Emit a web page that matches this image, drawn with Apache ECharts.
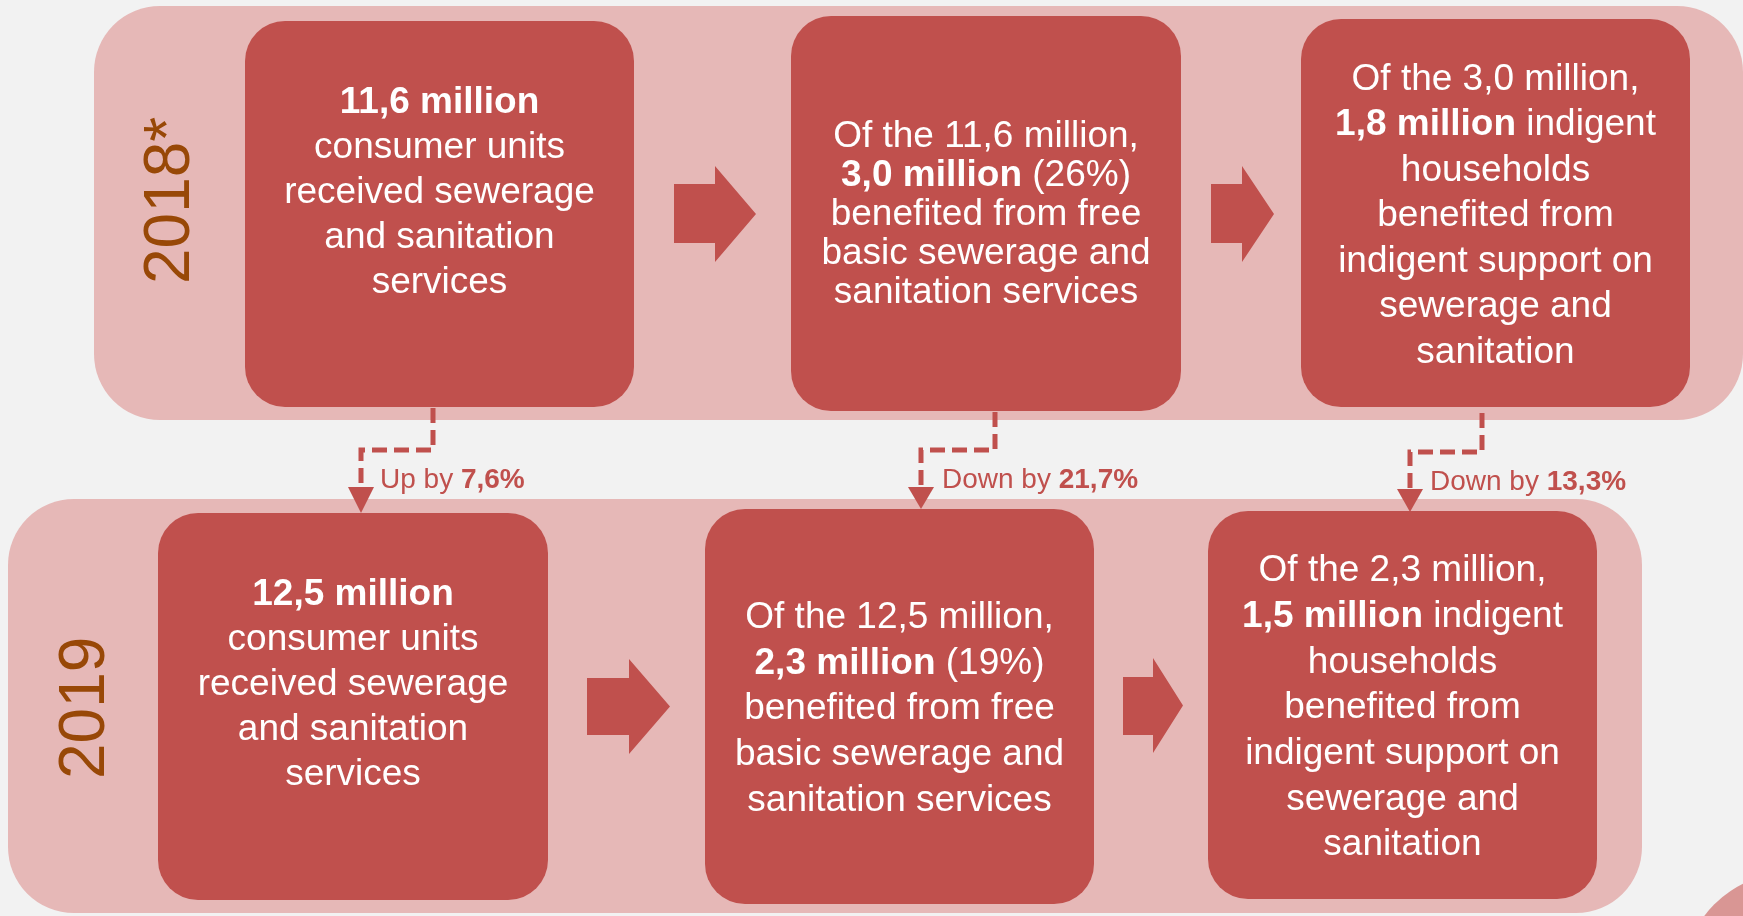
<!DOCTYPE html>
<html>
<head>
<meta charset="utf-8">
<script src="https://cdn.jsdelivr.net/npm/echarts@6/dist/echarts.min.js"></script>
<style>
  html, body { margin: 0; padding: 0; background: #F2F2F2; }
  #chart { width: 1743px; height: 916px; }
</style>
</head>
<body>
<div id="chart"></div>
<script>
// values (million, %)
const years = ['2018*', '2019'];
const consumerUnits = [11.6, 12.5];
const freeBasic = [3.0, 2.3];
const freeBasicShare = [26, 19];
const indigent = [1.8, 1.5];
const changeWord = ['Up by', 'Down by', 'Down by'];
const changePct = [7.6, 21.7, 13.3];

// colours
const BOX = '#C0504D';
const BAND = '#E6B8B7';
const YEAR = '#984807';
const FONT = '"Liberation Sans", Arial, sans-serif';

// layout (pixels)
const bands = [[94, 6, 1649, 414], [8, 499, 1634, 414]];
const boxes = [
    [[245, 21, 389, 386], [791, 16, 390, 395], [1301, 19, 389, 388]],
    [[158, 513, 390, 387], [705, 509, 389, 395], [1208, 511, 389, 388]]
];
const textCenter = [[193, 215, 216], [685, 709, 708]]; // centre y of each text block
const lineH = [[45, 39, 45.5], [45, 45.7, 45.7]];
const yearPos = [[171, 284], [86, 779]];
const arrowX = [[674, 715, 756], [1211, 1242, 1274], [587, 629, 670], [1123, 1153, 1183]];
const arrowY = [[166, 184, 243, 262], [166, 184, 243, 262], [659, 678, 735, 754], [658, 677, 735, 753]];
const connectors = [
    { from: [433, 408], mid: 450, to: [361, 487], tip: 513, label: [380, 480] },
    { from: [995, 412], mid: 450, to: [921, 487], tip: 509, label: [942, 480] },
    { from: [1482, 413], mid: 452, to: [1410, 489], tip: 512, label: [1430, 482] }
];

function fmt(v) {
    return v.toFixed(1).replace('.', ',');
}

function boxLines(row) {
    return [
        ['{b|' + fmt(consumerUnits[row]) + ' million}', 'consumer units', 'received sewerage', 'and sanitation', 'services'],
        ['Of the ' + fmt(consumerUnits[row]) + ' million,', '{b|' + fmt(freeBasic[row]) + ' million} (' + freeBasicShare[row] + '%)',
            'benefited from free', 'basic sewerage and', 'sanitation services'],
        ['Of the ' + fmt(freeBasic[row]) + ' million,', '{b|' + fmt(indigent[row]) + ' million} indigent', 'households',
            'benefited from', 'indigent support on', 'sewerage and', 'sanitation']
    ];
}

let elements = [];

// bands
bands.forEach(b => {
    elements.push({
        type: 'rect',
        shape: { x: b[0], y: b[1], width: b[2], height: b[3], r: 66 },
        style: { fill: BAND }
    });
});

// decorative circle bottom right
elements.push({
    type: 'circle',
    shape: { cx: 1790, cy: 980, r: 107 },
    style: { fill: '#D99694' }
});

// year labels
years.forEach((y, i) => {
    elements.push({
        type: 'text',
        x: yearPos[i][0],
        y: yearPos[i][1],
        rotation: Math.PI / 2,
        style: {
            text: y, fill: YEAR, fontSize: 64, fontFamily: FONT,
            align: 'left', verticalAlign: 'middle', lineHeight: 64
        }
    });
});

// boxes and text
boxes.forEach((row, r) => {
    const lines = boxLines(r);
    row.forEach((b, c) => {
        elements.push({
            type: 'rect',
            shape: { x: b[0], y: b[1], width: b[2], height: b[3], r: 40 },
            style: { fill: BOX }
        });
        const lh = lineH[r][c];
        elements.push({
            type: 'text',
            x: b[0] + b[2] / 2,
            y: textCenter[r][c],
            style: {
                text: lines[c].join('\n'),
                fill: '#fff', fontSize: 37, fontFamily: FONT,
                align: 'center', verticalAlign: 'middle', lineHeight: lh,
                rich: {
                    b: { fill: '#fff', fontSize: 37, fontFamily: FONT, fontWeight: 'bold', lineHeight: lh }
                }
            }
        });
    });
});

// block arrows between boxes
arrowX.forEach((ax, i) => {
    const ay = arrowY[i];
    const mid = (ay[0] + ay[3]) / 2;
    elements.push({
        type: 'polygon',
        shape: {
            points: [[ax[0], ay[1]], [ax[1], ay[1]], [ax[1], ay[0]], [ax[2], mid],
                [ax[1], ay[3]], [ax[1], ay[2]], [ax[0], ay[2]]]
        },
        style: { fill: BOX }
    });
});

// dashed connectors with change labels
connectors.forEach((c, i) => {
    elements.push({
        type: 'polyline',
        shape: { points: [c.from, [c.from[0], c.mid], [c.to[0], c.mid], c.to] },
        style: { stroke: BOX, lineWidth: 5, lineDash: [15, 7], fill: null }
    });
    elements.push({
        type: 'polygon',
        shape: { points: [[c.to[0] - 13, c.to[1]], [c.to[0] + 13, c.to[1]], [c.to[0], c.tip]] },
        style: { fill: BOX }
    });
    elements.push({
        type: 'text',
        x: c.label[0],
        y: c.label[1],
        style: {
            text: changeWord[i] + ' {b|' + fmt(changePct[i]) + '%}',
            fill: BOX, fontSize: 28, fontFamily: FONT,
            align: 'left', verticalAlign: 'middle', lineHeight: 30,
            rich: { b: { fill: BOX, fontSize: 28, fontFamily: FONT, fontWeight: 'bold', lineHeight: 30 } }
        }
    });
});

const chart = echarts.init(document.getElementById('chart'));
chart.setOption({
    backgroundColor: '#F2F2F2',
    animation: false,
    graphic: { elements: elements }
});
</script>
</body>
</html>
